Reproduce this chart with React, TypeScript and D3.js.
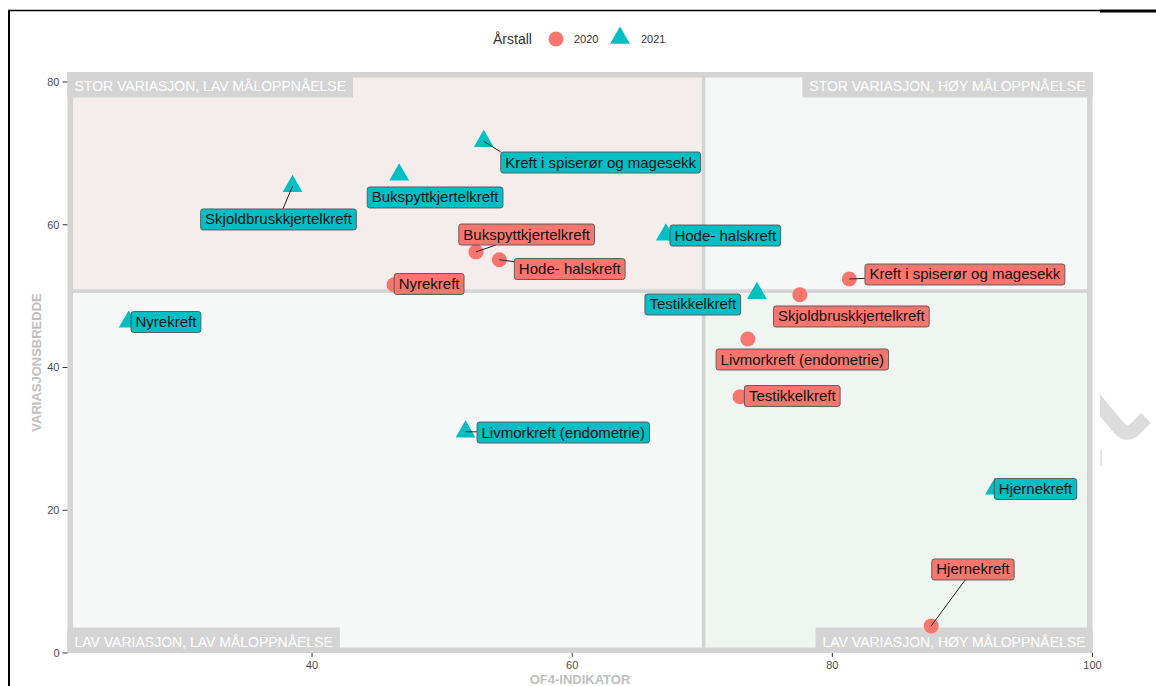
import { useEffect, useRef } from 'react';
import * as d3 from 'd3';

const width = 1156;
const height = 686;

// kreftformer, same order in every array
const categories = [
  'Skjoldbruskkjertelkreft',
  'Bukspyttkjertelkreft',
  'Kreft i spiserør og magesekk',
  'Hode- halskreft',
  'Nyrekreft',
  'Testikkelkreft',
  'Livmorkreft (endometrie)',
  'Hjernekreft',
];

// OF4-indikator (x) and variasjonsbredde (y)
const x2020 = [77.5, 52.6, 81.3, 54.4, 46.3, 72.9, 73.5, 87.6];
const y2020 = [50.2, 56.2, 52.4, 55.1, 51.6, 35.9, 44.0, 3.8];
const x2021 = [38.5, 46.7, 53.2, 67.2, 25.9, 74.2, 51.8, 92.5];
const y2021 = [65.4, 67.0, 71.7, 58.6, 46.4, 50.4, 31.0, 23.0];

// where the repelled labels ended up (data units, label centre)
const labelX2020 = [81.46, 56.5, 90.19, 59.81, 49.0, 76.92, 77.69, 90.81];
const labelY2020 = [47.15, 58.63, 53.03, 53.8, 51.7, 36.0, 41.12, 11.7];
const labelX2021 = [37.42, 49.46, 62.19, 71.77, 28.77, 69.27, 59.31, 95.62];
const labelY2021 = [60.74, 63.82, 68.72, 58.49, 46.37, 48.83, 30.89, 22.98];
const segment2020 = [false, true, true, true, false, false, false, true];
const segment2021 = [true, false, true, false, false, false, true, false];

const years = ['2020', '2021'];
const xTicks = [40, 60, 80, 100];
const yTicks = [0, 20, 40, 60, 80];
const xCut = 70.1;
const yCut = 50.7;
const quadrantLabels = [
  'STOR VARIASJON, LAV MÅLOPPNÅELSE',
  'STOR VARIASJON, HØY MÅLOPPNÅELSE',
  'LAV VARIASJON, LAV MÅLOPPNÅELSE',
  'LAV VARIASJON, HØY MÅLOPPNÅELSE',
];

const colors = ['#F8766D', '#00BFC4'];
const font = "'Liberation Sans', Arial, sans-serif";

const left = 67.5, right = 1092.5, top = 72, bottom = 653;

const x = d3.scaleLinear().domain([21.2, 100]).range([left, right]);
const y = d3.scaleLinear().domain([0, 81.4]).range([bottom, top]);

const App = () => {
  const ref = useRef<SVGSVGElement>(null);

  useEffect(() => {
    const svg = d3.select(ref.current);
    svg.selectAll('*').remove();

    // screenshot frame
    svg.append('line').attr('x1', 9).attr('x2', 9).attr('y1', 10).attr('y2', height)
      .attr('stroke', '#000').attr('stroke-width', 2);
    svg.append('line').attr('x1', 8).attr('x2', 1100).attr('y1', 10.5).attr('y2', 10.5)
      .attr('stroke', '#000').attr('stroke-width', 1.5);
    svg.append('line').attr('x1', 1100).attr('x2', width).attr('y1', 11).attr('y2', 11)
      .attr('stroke', '#000').attr('stroke-width', 3);

    // watermark piece on the right
    svg.append('clipPath').attr('id', 'wm').append('rect')
      .attr('x', 1100).attr('y', 380).attr('width', 56).attr('height', 120);
    const wm = svg.append('g').attr('clip-path', 'url(#wm)');
    wm.append('path').attr('d', 'M1094,398 L1119,428 Q1127,437 1135,429 L1146,418')
      .attr('fill', 'none').attr('stroke', '#dcdcdc').attr('stroke-width', 14);
    wm.append('rect').attr('x', 1100).attr('y', 450).attr('width', 2).attr('height', 16).attr('fill', '#e4e4e4');

    // panel + quadrants
    svg.append('rect').attr('x', left).attr('y', top).attr('width', right - left).attr('height', bottom - top)
      .attr('fill', '#d4d4d4');
    const xc = x(xCut), yc = y(yCut);
    const outer = 5.5, inner = 1.75;
    const quads = [
      { x0: left + outer, x1: xc - inner, y0: top + outer, y1: yc - inner, fill: '#f5ecec' },
      { x0: xc + inner, x1: right - outer, y0: top + outer, y1: yc - inner, fill: '#f6f8f7' },
      { x0: left + outer, x1: xc - inner, y0: yc + inner, y1: bottom - outer, fill: '#f6f8f7' },
      { x0: xc + inner, x1: right - outer, y0: yc + inner, y1: bottom - outer, fill: '#eff5f1' },
    ];
    svg.selectAll('rect.quad').data(quads).join('rect').attr('class', 'quad')
      .attr('x', d => d.x0).attr('y', d => d.y0)
      .attr('width', d => d.x1 - d.x0).attr('height', d => d.y1 - d.y0)
      .attr('fill', d => d.fill);

    // quadrant corner labels
    quadrantLabels.forEach((lab, i) => {
      const isRight = i % 2 === 1;
      const isBottom = i >= 2;
      const g = svg.append('g');
      const by = isBottom ? bottom - 25.5 : top;
      const t = g.append('text').text(lab)
        .attr('font-family', font).attr('font-size', 14).attr('fill', '#fff')
        .attr('y', by + 19);
      const w = (t.node() as SVGTextElement).getComputedTextLength();
      const bw = w + 14;
      const bx = isRight ? right - bw : left;
      t.attr('x', bx + 7);
      g.insert('rect', 'text').attr('x', bx).attr('y', by).attr('width', bw).attr('height', 25.5)
        .attr('fill', '#d4d4d4');
    });

    // axes
    const yAxis = svg.append('g');
    yTicks.forEach(v => {
      yAxis.append('line').attr('x1', left - 5).attr('x2', left).attr('y1', y(v)).attr('y2', y(v))
        .attr('stroke', '#333').attr('stroke-width', 1);
      yAxis.append('text').text(v).attr('x', left - 8).attr('y', y(v) + 4)
        .attr('text-anchor', 'end').attr('font-family', font).attr('font-size', 11).attr('fill', '#4d4d4d');
    });
    const xAxis = svg.append('g');
    xTicks.forEach(v => {
      xAxis.append('line').attr('x1', x(v)).attr('x2', x(v)).attr('y1', bottom).attr('y2', bottom + 4)
        .attr('stroke', '#333').attr('stroke-width', 1);
      xAxis.append('text').text(v).attr('x', x(v)).attr('y', bottom + 16)
        .attr('text-anchor', 'middle').attr('font-family', font).attr('font-size', 11).attr('fill', '#4d4d4d');
    });
    svg.append('text').text('OF4-INDIKATOR').attr('x', (left + right) / 2).attr('y', 684)
      .attr('text-anchor', 'middle').attr('font-family', font).attr('font-size', 13)
      .attr('font-weight', 'bold').attr('fill', '#bfbfbf');
    svg.append('text').text('VARIASJONSBREDDE')
      .attr('transform', `translate(41,${(top + bottom) / 2}) rotate(-90)`)
      .attr('text-anchor', 'middle').attr('font-family', font).attr('font-size', 13)
      .attr('font-weight', 'bold').attr('fill', '#bfbfbf');

    // legend
    const lg = svg.append('g');
    lg.append('text').text('Årstall').attr('x', 493).attr('y', 44)
      .attr('font-family', font).attr('font-size', 14).attr('fill', '#333');
    lg.append('circle').attr('cx', 556).attr('cy', 39).attr('r', 7.5).attr('fill', colors[0]);
    lg.append('text').text(years[0]).attr('x', 574).attr('y', 43)
      .attr('font-family', font).attr('font-size', 11).attr('fill', '#333');
    lg.append('path').attr('d', d3.symbol(d3.symbolTriangle, 170)())
      .attr('transform', 'translate(620,38)').attr('fill', colors[1]);
    lg.append('text').text(years[1]).attr('x', 641).attr('y', 43)
      .attr('font-family', font).attr('font-size', 11).attr('fill', '#333');

    const series = [
      { xs: x2020, ys: y2020, lx: labelX2020, ly: labelY2020, seg: segment2020, color: colors[0], shape: 'circle' },
      { xs: x2021, ys: y2021, lx: labelX2021, ly: labelY2021, seg: segment2021, color: colors[1], shape: 'triangle' },
    ];

    // points
    const pts = svg.append('g');
    series.forEach(s => {
      categories.forEach((_, i) => {
        if (s.shape === 'circle') {
          pts.append('circle').attr('cx', x(s.xs[i])).attr('cy', y(s.ys[i])).attr('r', 7.5).attr('fill', s.color);
        } else {
          pts.append('path').attr('d', d3.symbol(d3.symbolTriangle, 170)())
            .attr('transform', `translate(${x(s.xs[i])},${y(s.ys[i])})`).attr('fill', s.color);
        }
      });
    });

    // labels with segments
    const segs = svg.append('g');
    const labs = svg.append('g');
    series.forEach(s => {
      categories.forEach((name, i) => {
        const cx = x(s.lx[i]), cy = y(s.ly[i]);
        const g = labs.append('g');
        const t = g.append('text').text(name).attr('x', cx).attr('y', cy + 5)
          .attr('text-anchor', 'middle').attr('font-family', font).attr('font-size', 15).attr('fill', '#111');
        const w = (t.node() as SVGTextElement).getComputedTextLength();
        const bx0 = cx - w / 2 - 4.5, bx1 = cx + w / 2 + 4.5;
        const by0 = cy - 10.5, by1 = cy + 10.5;
        g.insert('rect', 'text').attr('x', bx0).attr('y', by0).attr('width', bx1 - bx0).attr('height', by1 - by0)
          .attr('rx', 2.5).attr('fill', s.color).attr('stroke', '#555').attr('stroke-width', 0.9);
        if (s.seg[i]) {
          const px = x(s.xs[i]), py = y(s.ys[i]);
          let ex: number, ey: number;
          const outX = px < bx0 - 4 || px > bx1 + 4;
          const outY = py < by0 - 4 || py > by1 + 4;
          if (outX && outY) {
            // clearly diagonal to the box: go to the nearest corner
            ex = px < bx0 ? bx0 : bx1;
            ey = py < by0 ? by0 : by1;
          } else {
            const dx = cx - px, dy = cy - py;
            const tx = dx !== 0 ? ((dx > 0 ? bx0 : bx1) - px) / dx : -Infinity;
            const ty = dy !== 0 ? ((dy > 0 ? by0 : by1) - py) / dy : -Infinity;
            const tt = Math.max(0, Math.max(tx, ty));
            ex = px + dx * tt;
            ey = py + dy * tt;
          }
          segs.append('line').attr('x1', px).attr('y1', py).attr('x2', ex).attr('y2', ey)
            .attr('stroke', '#222').attr('stroke-width', 1);
        }
      });
    });
  }, []);

  return (
    <svg ref={ref} width={width} height={height}
      style={{ position: 'absolute', left: 0, top: 0, display: 'block', background: '#fff' }} />
  );
};

export default App;
